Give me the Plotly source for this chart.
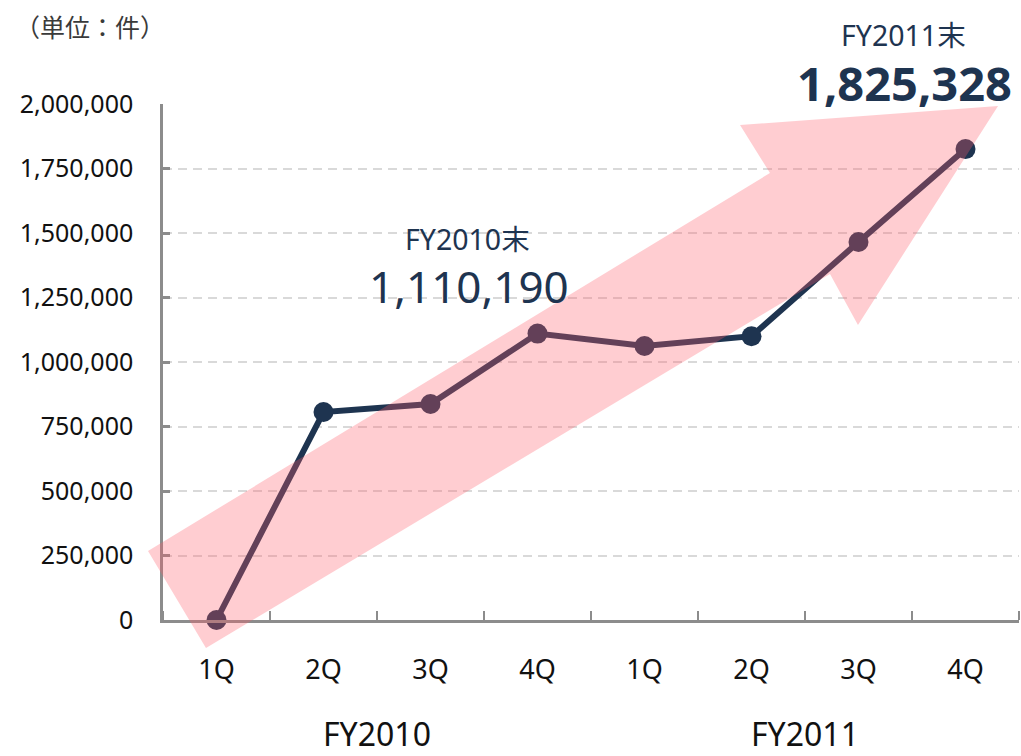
import plotly.graph_objects as go

quarters = ["1Q", "2Q", "3Q", "4Q", "1Q", "2Q", "3Q", "4Q"]
fiscal_years = ["FY2010", "FY2011"]
counts = [0, 806000, 837000, 1110190, 1062000, 1100000, 1465000, 1825328]
y_ticks = [0, 250000, 500000, 750000, 1000000, 1250000, 1500000, 1750000, 2000000]
unit_label = "（単位：件）"
callout_fy2010 = ("FY2010末", "1,110,190")
callout_fy2011 = ("FY2011末", "1,825,328")

W, H = 1021, 756
L, R, T, B = 163, 2, 104, 136
PW, PH = W - L - R, H - T - B

def px(x):
    return (x - L) / PW

def py(y):
    return (H - B - y) / PH

FONT = "Noto Sans, Noto Sans CJK JP, sans-serif"
NAVY = "#1e3450"
GRAY = "#8c8c8c"

xs = list(range(len(quarters)))

fig = go.Figure()
fig.add_trace(go.Scatter(
    x=xs, y=counts, mode="lines+markers",
    line=dict(color=NAVY, width=6),
    marker=dict(color=NAVY, size=20),
    hoverinfo="skip", showlegend=False, cliponaxis=False,
))

# decorative arrow (pixel vertices -> paper coords)
arrow_px = [(148, 551), (770, 173), (740, 125), (998, 106), (858, 325), (830, 274), (206, 648)]
path = "M " + " L ".join(f"{px(a):.4f},{py(b):.4f}" for a, b in arrow_px) + " Z"
fig.add_shape(type="path", path=path, xref="paper", yref="paper",
              fillcolor="#ff5c6c", opacity=0.31, line=dict(width=0), layer="above")

ann = []
ann.append(dict(text=unit_label, x=px(90), y=py(27), font=dict(size=25, color="#3a3a3a")))
ann.append(dict(text=callout_fy2010[0], x=px(467), y=py(239), font=dict(size=28.5, color=NAVY)))
ann.append(dict(text=callout_fy2010[1], x=px(469), y=py(286), font=dict(size=44, color=NAVY)))
ann.append(dict(text=callout_fy2011[0], x=px(903), y=py(35), font=dict(size=28.5, color=NAVY)))
ann.append(dict(text="<b>" + callout_fy2011[1] + "</b>", x=px(904), y=py(83), font=dict(size=47, color=NAVY)))
for i, fy in enumerate(fiscal_years):
    ann.append(dict(text=fy, x=px(L + (1.5 + 4 * i + 0.5) * PW / len(quarters)), y=py(733),
                    font=dict(size=32, color="#111111")))
for a in ann:
    a.update(xref="paper", yref="paper", showarrow=False, xanchor="center", yanchor="middle")
    a["font"]["family"] = FONT

fig.update_layout(
    width=W, height=H, margin=dict(l=L, r=R, t=T, b=B, autoexpand=False),
    paper_bgcolor="white", plot_bgcolor="white",
    font=dict(family=FONT, color="#111111"),
    annotations=ann,
    xaxis=dict(
        range=[-0.5, len(quarters) - 0.5], tickmode="array", tickvals=xs, ticktext=quarters,
        showline=True, linecolor=GRAY, linewidth=2.5, showgrid=False, zeroline=False,
        ticks="", tickfont=dict(size=27, color="#111111"), ticklabelstandoff=24,
        minor=dict(tickmode="array", tickvals=[i - 0.5 for i in range(len(quarters) + 1)],
                   ticks="inside", ticklen=9, tickcolor=GRAY, tickwidth=2, showgrid=False),
        fixedrange=True,
    ),
    yaxis=dict(
        range=[0, 2000000], tickmode="array", tickvals=y_ticks, tickformat=",",
        showline=True, linecolor=GRAY, linewidth=2.5, zeroline=False,
        showgrid=True, gridcolor="#d9d9d9", gridwidth=2, griddash="9px,6px",
        ticks="inside", ticklen=7, tickcolor=GRAY, tickwidth=2.5,
        tickfont=dict(size=25, color="#111111"), ticklabelstandoff=22,
        fixedrange=True,
    ),
)

fig.write_html("out.html")
